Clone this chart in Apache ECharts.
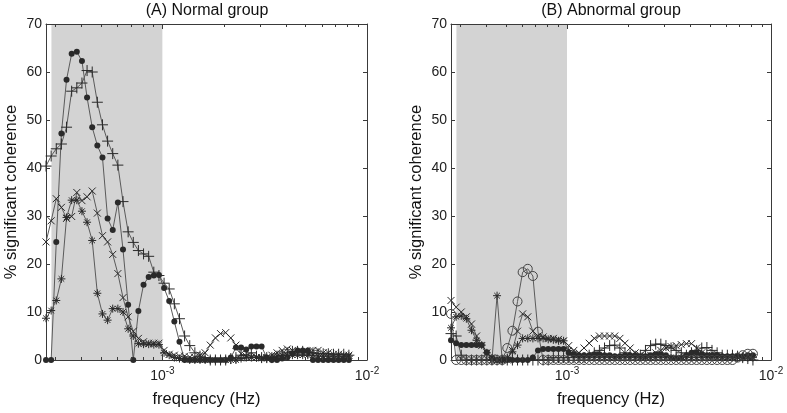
<!DOCTYPE html>
<html><head><meta charset="utf-8">
<script src="https://cdn.jsdelivr.net/npm/echarts@6/dist/echarts.min.js"></script>
<style>html,body{margin:0;padding:0;background:#fff}#c{width:787px;height:413px}</style>
</head><body><div id="c"></div>
<script>
// frequency grid (Hz)
const freq = [2.700e-4, 2.861e-4, 3.031e-4, 3.211e-4, 3.402e-4, 3.604e-4, 3.819e-4, 4.046e-4, 4.286e-4, 4.541e-4,
  4.811e-4, 5.097e-4, 5.400e-4, 5.721e-4, 6.061e-4, 6.422e-4, 6.804e-4, 7.208e-4, 7.637e-4, 8.091e-4,
  8.572e-4, 9.082e-4, 9.622e-4, 1.0194e-3, 1.0800e-3, 1.1442e-3, 1.2123e-3, 1.2844e-3, 1.3607e-3, 1.4416e-3,
  1.5274e-3, 1.6182e-3, 1.7144e-3, 1.8164e-3, 1.9244e-3, 2.0388e-3, 2.1600e-3, 2.2884e-3, 2.4245e-3, 2.5687e-3,
  2.7214e-3, 2.8833e-3, 3.0547e-3, 3.2364e-3, 3.4288e-3, 3.6327e-3, 3.8487e-3, 4.0776e-3, 4.3200e-3, 4.5769e-3,
  4.8491e-3, 5.1374e-3, 5.4429e-3, 5.7666e-3, 6.1095e-3, 6.4728e-3, 6.8577e-3, 7.2655e-3, 7.6975e-3, 8.1552e-3];

// (A) Normal group
const normalDot = [0, 0, 24.6, 47.2, 58.4, 63.8, 64.2, 62.3, 54.7, 48.5,
  44.7, 42.2, 29.5, 27.1, 32.8, 23, 11.5, 0, 10.2, 15.7,
  17.3, 17.6, 17.7, 15, 12.3, 8, 3.8, 0, 0, 0,
  0, 0, 0, 0, 0, 0, 0.5, 2.6, 2.6, 2.2,
  2.8, 2.8, 2.8, 0.5, 0, 0, 0.3, 0.5, 1.3, 2,
  2, 2, 0, 0, 0, 0, 0, 0, 0, 0];
const normalPlus = [40.4, 42.5, 44, 45, 48.5, 56, 56.7, 57.7, 60.3, 60,
  53.7, 49, 45.6, 43, 40.6, 33, 26.7, 24.5, 22.8, 22.1,
  21.6, 18.3, 17.6, 16, 14.8, 11.7, 8.6, 5, 3, 1.5,
  0.8, 0.5, 0, 0, 0, 0, 0.3, 0.5, 1, 1,
  1.5, 0.8, 0.5, 0.5, 0.5, 0.8, 1, 1.5, 1.8, 1.8,
  1.8, 1.5, 1.5, 1.3, 1.3, 1.3, 1.2, 1.2, 1.2, 1];
const normalCross = [24.6, 29, 33.6, 31.8, 29.5, 29.9, 34.9, 33.2, 34, 35.2,
  30.6, 25.9, 24.6, 22, 18, 13, 9, 6, 4.5, 3.8,
  3.5, 3.5, 3.5, 2, 1.2, 1, 0.8, 0.8, 0.6, 0.5,
  1, 1.5, 3.1, 4.6, 5.5, 5.7, 4.6, 3.1, 1.3, 0.8,
  0.6, 0.5, 0.5, 0.5, 1, 1.5, 2, 2.3, 2, 1.5,
  1.5, 1.5, 2, 2, 1.5, 1.5, 1.2, 1.2, 1, 1];
const normalStar = [8.7, 10.3, 12.4, 16.9, 29.7, 33.3, 33.3, 31, 28.7, 24.9,
  13.9, 9.6, 8.3, 10.7, 10.7, 10, 6.5, 5, 3.4, 3.3,
  3.3, 3.2, 3.2, 1.5, 1, 0.5, 0.3, 0.2, 0, 0,
  0, 0, 0, 0, 0, 0, 0, 0, 0.3, 0.5,
  0.5, 0.5, 0.3, 0.3, 0.5, 0.8, 1, 1, 1, 1,
  1, 1, 1, 0.8, 0.8, 0.8, 0.8, 0.8, 0.8, 0.8];

// (B) Abnormal group
const abnCircle = [9.6, 0, 0, 0, 0, 0, 0, 0, 0, 0,
  0, 2.5, 6.1, 12.2, 18.3, 19, 17.5, 5.9, 0, 0,
  0, 0, 0, 0, 0, 0, 0, 0, 0, 0,
  0, 0, 0, 0, 0, 0, 0, 0, 0, 0,
  0, 0, 0, 0, 0, 0, 0, 0, 0, 0,
  0, 0, 0, 0, 0, 0, 0.5, 1, 1.3, 1.3];
const abnCross = [12.4, 11, 10, 9, 7.5, 5, 3, 1.5, 0.5, 0,
  0, 0, 2, 6, 9.6, 9, 6, 5, 4.8, 4.5,
  4.5, 4.3, 4, 3, 2, 1.5, 2.5, 3.5, 4.5, 5,
  5, 5, 5, 4.5, 3.5, 2.5, 1.5, 1, 0.8, 1,
  1.5, 2, 2.5, 2.8, 3, 3.2, 3.4, 3.4, 2.5, 1.5,
  1, 0.8, 0.5, 0.5, 0.5, 0.5, 0.5, 0.5, 0.5, 0.5];
const abnStar = [6.7, 9, 9.2, 8.6, 6.2, 4.1, 3.1, 1.5, 0, 13.4,
  0, 0.5, 1.7, 3.1, 4.5, 4.5, 4.5, 4.5, 4.5, 4.3,
  4.2, 4, 4, 2, 1, 0.5, 0.5, 0.5, 0.5, 0.5,
  0.5, 0.5, 0.5, 0.5, 0.5, 0.5, 0.5, 0.5, 0.5, 0.5,
  0.5, 0.5, 0.5, 0.5, 0.5, 0.5, 0.5, 0.5, 0.5, 0.5,
  0.5, 0.5, 0.5, 0.5, 0.5, 0.5, 0.5, 0.5, 0.5, 0.5];
const abnPlus = [5.5, 5, 1, 0, 0, 0, 0, 0, 0, 0,
  0, 0, 0, 0, 0, 0, 0, 0, 0, 0,
  0.5, 0.5, 0.5, 0.5, 0.5, 0.5, 0.5, 1, 1.5, 2,
  2.5, 3, 3.1, 2.5, 1.5, 1, 0.8, 1, 2, 3,
  3.3, 3.3, 3, 2.5, 2, 1.5, 1, 1.5, 2, 2.5,
  2.6, 2, 1.5, 1, 1, 1, 0.8, 0.5, 0.3, 0];
const abnDot = [4.1, 3.5, 3.1, 3.1, 3.1, 3.1, 3.1, 1.6, 0.5, 0,
  0, 0, 0, 0, 0, 0, 0.5, 2, 2.3, 2.3,
  2.3, 2.3, 2.3, 1.5, 1.2, 1, 1, 1, 1.2, 1.2,
  1, 1, 0.8, 0.8, 1, 1, 1, 0.8, 0.8, 1,
  1.2, 1.2, 1, 0.5, 0.3, 0.5, 1, 1.5, 1.5, 1.2,
  1, 1, 1, 0.8, 0.8, 0.8, 0.8, 0.8, 1, 1];

// axis ticks / bands
const xMin = 2.7e-4, xMax = 1e-2;
const shadeBand = [2.87e-4, 1e-3];
const minorTicks = [3e-4, 4e-4, 5e-4, 6e-4, 7e-4, 8e-4, 9e-4, 2e-3, 3e-3, 4e-3, 5e-3, 6e-3, 7e-3, 8e-3, 9e-3];
const yTickInterval = 10;
const panelTitles = ['(A) Normal group', '(B) Abnormal group'];

const FONT = 'Arial, "Liberation Sans", Helvetica, sans-serif';
const AX = '#3a3a3a';
const LINE = '#5a5a5a';
const MK = '#2a2a2a';

const SYM = {
  dot: {symbol: 'circle', size: 6, style: {color: MK, borderWidth: 0}},
  plus: {symbol: 'path://M0,5L10,5M5,0L5,10', size: 11, style: {color: 'none', borderColor: MK, borderWidth: 1}},
  cross: {symbol: 'path://M0,0L10,10M10,0L0,10', size: 7, style: {color: 'none', borderColor: MK, borderWidth: 1}},
  star: {symbol: 'path://M5,0L5,10M0,5L10,5M1.5,1.5L8.5,8.5M8.5,1.5L1.5,8.5', size: 8, style: {color: 'none', borderColor: MK, borderWidth: 1}},
  circle: {symbol: 'circle', size: 9, style: {color: 'none', borderColor: '#444', borderWidth: 1}}
};

const chart = echarts.init(document.getElementById('c'), null, {renderer: 'canvas'});

const grids = [
  {left: 46, top: 24, width: 321, height: 337.5},
  {left: 451, top: 24, width: 320, height: 337.5}
];

function expLabel(v) {
  const e = Math.log10(v);
  if (Math.abs(e - Math.round(e)) > 1e-6) return '';
  return '{b|10}{e|' + Math.round(e) + '}';
}

const xAxes = [], yAxes = [], series = [];
grids.forEach((g, gi) => {
  xAxes.push({
    type: 'log', logBase: 10, gridIndex: gi, min: xMin, max: xMax,
    axisLine: {onZero: false, lineStyle: {color: AX, width: 1}},
    axisTick: {inside: true, length: 5, lineStyle: {color: AX}},
    splitLine: {show: false},
    axisLabel: {formatter: expLabel, margin: 6, color: '#222',
      rich: {b: {fontSize: 14, fontFamily: FONT, color: '#222', padding: [3, 0, 0, 0]},
             e: {fontSize: 10, fontFamily: FONT, color: '#222', verticalAlign: 'top'}}},
    name: 'frequency (Hz)', nameLocation: 'middle', nameGap: 31,
    nameTextStyle: {fontSize: 16.5, fontFamily: FONT, color: '#111'}
  });
  xAxes.push({
    type: 'log', logBase: 10, gridIndex: gi, min: xMin, max: xMax, position: 'top',
    axisLine: {onZero: false, lineStyle: {color: AX, width: 1}},
    axisTick: {inside: true, length: 5, lineStyle: {color: AX}},
    axisLabel: {show: false}, splitLine: {show: false}
  });
  yAxes.push({
    type: 'value', gridIndex: gi, min: 0, max: 70, interval: yTickInterval,
    axisLine: {show: true, onZero: false, lineStyle: {color: AX, width: 1}},
    axisTick: {show: true, inside: true, length: 4, lineStyle: {color: AX}},
    splitLine: {show: false},
    axisLabel: {fontSize: 14, fontFamily: FONT, color: '#222', margin: 4},
    name: '% significant coherence', nameLocation: 'middle', nameGap: 26,
    nameTextStyle: {fontSize: 16.5, fontFamily: FONT, color: '#111'}
  });
  yAxes.push({
    type: 'value', gridIndex: gi, min: 0, max: 70, interval: yTickInterval, position: 'right',
    axisLine: {show: true, onZero: false, lineStyle: {color: AX, width: 1}},
    axisTick: {show: true, inside: true, length: 4, lineStyle: {color: AX}},
    splitLine: {show: false}, axisLabel: {show: false}
  });
  // shaded band
  series.push({
    type: 'custom', xAxisIndex: gi * 2, yAxisIndex: gi * 2, silent: true, z: 0,
    data: [[shadeBand[0], 0, shadeBand[1]]],
    renderItem: (params, api) => {
      const cs = params.coordSys;
      const x1 = api.coord([api.value(0), 0])[0];
      const x2 = api.coord([api.value(2), 0])[0];
      return {type: 'rect', shape: {x: x1, y: cs.y, width: x2 - x1, height: cs.height},
        style: {fill: '#d3d3d3'}};
    }
  });
  // minor log ticks (top and bottom)
  series.push({
    type: 'custom', xAxisIndex: gi * 2, yAxisIndex: gi * 2, silent: true, z: 6,
    data: minorTicks.map(v => [v, 0]),
    renderItem: (params, api) => {
      const cs = params.coordSys;
      const x = Math.round(api.coord([api.value(0), 0])[0]) + 0.5;
      return {type: 'group', children: [
        {type: 'line', shape: {x1: x, y1: cs.y + cs.height, x2: x, y2: cs.y + cs.height - 3}, style: {stroke: AX, lineWidth: 1}},
        {type: 'line', shape: {x1: x, y1: cs.y, x2: x, y2: cs.y + 3}, style: {stroke: AX, lineWidth: 1}}
      ]};
    }
  });
});

function addLine(gi, vals, kind) {
  const s = SYM[kind];
  series.push({
    type: 'line', xAxisIndex: gi * 2, yAxisIndex: gi * 2, z: 3,
    data: freq.map((f, i) => [f, vals[i]]),
    symbol: s.symbol, symbolSize: s.size, showSymbol: true, showAllSymbol: true,
    itemStyle: s.style,
    lineStyle: {color: LINE, width: 1},
    emphasis: {disabled: true}, silent: true
  });
}
addLine(0, normalStar, 'star');
addLine(0, normalCross, 'cross');
addLine(0, normalPlus, 'plus');
addLine(0, normalDot, 'dot');
addLine(1, abnPlus, 'plus');
addLine(1, abnStar, 'star');
addLine(1, abnCross, 'cross');
addLine(1, abnDot, 'dot');
addLine(1, abnCircle, 'circle');

chart.setOption({
  animation: false,
  backgroundColor: '#fff',
  title: [
    {text: panelTitles[0], left: 207, top: 3, textAlign: 'center', padding: 0,
      textStyle: {fontSize: 16, fontWeight: 'normal', fontFamily: FONT, color: '#111'}},
    {text: panelTitles[1], left: 611, top: 3, textAlign: 'center', padding: 0,
      textStyle: {fontSize: 16, fontWeight: 'normal', fontFamily: FONT, color: '#111'}}
  ],
  grid: grids,
  xAxis: xAxes,
  yAxis: yAxes,
  series: series
});
</script></body></html>
